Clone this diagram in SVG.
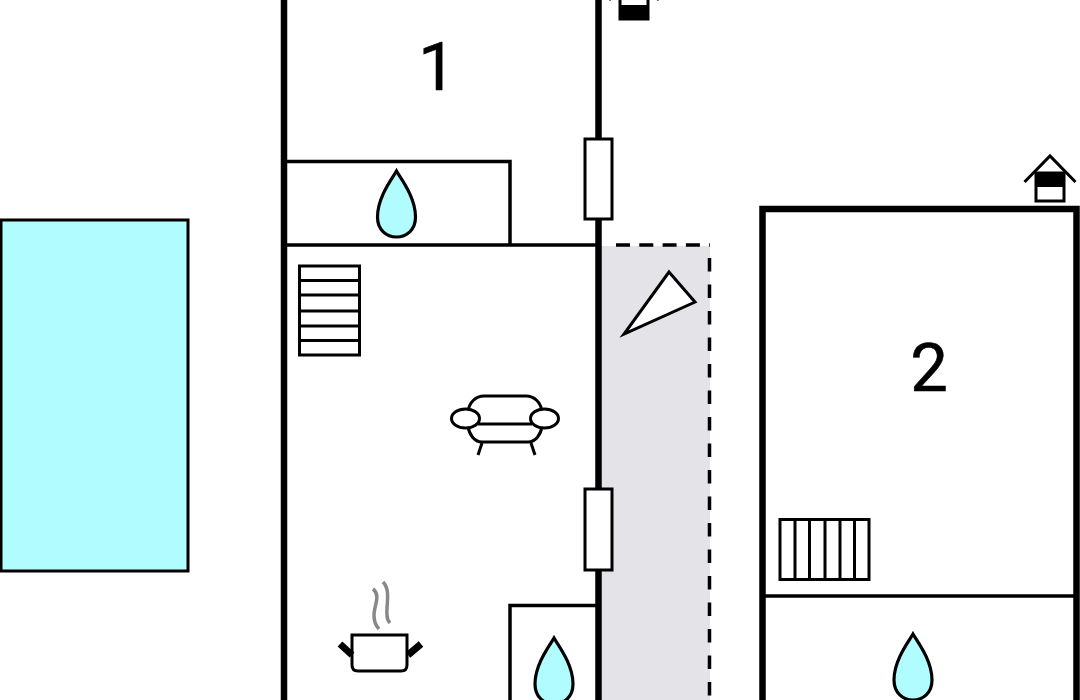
<svg xmlns="http://www.w3.org/2000/svg" width="1080" height="700" viewBox="0 0 1080 700">
<defs>
<path id="drop" d="M0 0C-4 7-19 26-19 46C-19 59-10 66 0 66C10 66 19 59 19 46C19 26 4 7 0 0Z" fill="#b0fcff" stroke="#000" stroke-width="3.200"/>
</defs>
<style>
.w{fill:none;stroke:#000;stroke-width:6.500}
.t{fill:none;stroke:#000;stroke-width:3.500}
.s{fill:none;stroke:#000;stroke-width:3}
.l{font-family:Roboto,"Liberation Sans",sans-serif;font-size:67px;fill:#000;stroke:#000;stroke-width:.6;text-anchor:middle}
</style>
<rect width="1080" height="700" fill="#fff"/>
<rect id="pool" x="1" y="220" width="187" height="351" fill="#b0fcff" stroke="#000" stroke-width="3"/>
<rect id="terrace" x="600" y="246" width="110" height="454" fill="#e3e3e8"/>
<path d="M616 245H710" fill="none" stroke="#000" stroke-width="3.500" stroke-dasharray="14 9.300"/>
<path d="M709.500 258V700" fill="none" stroke="#000" stroke-width="3.500" stroke-dasharray="13.500 13"/>
<g id="walls">
<path class="w" d="M284 0V700M598.500 0V700"/>
<path class="t" d="M284 161.500H510V245M284 245H600M510 700V605.500H598"/>
<path d="M762.500 700V209H1076.500V700" fill="none" stroke="#000" stroke-width="6.500"/>
<path class="t" d="M763 596H1077"/>
</g>
<g id="door-1"><rect x="585" y="139" width="27" height="80" fill="#fff" stroke="#000" stroke-width="3"/></g>
<g id="door-2"><rect x="585" y="489" width="27" height="81" fill="#fff" stroke="#000" stroke-width="3"/></g>
<g id="house-top">
<path d="M609 0L634 -26L659 0" fill="none" stroke="#000" stroke-width="3"/>
<rect x="620" y="-10" width="28" height="29" fill="#fff" stroke="#000" stroke-width="3"/>
<rect x="620" y="5" width="28" height="14" fill="#000"/>
</g>
<g id="house-right">
<rect x="1036" y="173" width="28" height="28" fill="#fff" stroke="#000" stroke-width="3"/>
<rect x="1036" y="173" width="28" height="14" fill="#000"/>
<path d="M1024.500 182L1050 156L1075.500 182" fill="none" stroke="#000" stroke-width="3"/>
</g>
<g id="room-1"><text class="l" x="437" y="90">1</text></g>
<g id="room-2"><text class="l" x="929" y="391">2</text></g>
<g id="bath-1"><use href="#drop" x="396.500" y="171"/></g>
<g id="bath-2"><use href="#drop" x="554" y="638"/></g>
<g id="bath-3"><use href="#drop" x="913" y="634"/></g>
<g id="stairs-1">
<rect x="299.500" y="266" width="60" height="89" fill="#fff" stroke="#000" stroke-width="3"/>
<path class="s" d="M299 280.500H360M299 295H360M299 311H360M299 326H360M299 340.500H360"/>
</g>
<g id="stairs-2">
<rect x="780" y="519.500" width="89" height="60" fill="#fff" stroke="#000" stroke-width="3"/>
<path class="s" d="M795 519V580M809.500 519V580M825 519V580M840 519V580M854.500 519V580"/>
</g>
<g id="compass"><path d="M669 272L695 302L624 334Z" fill="#fff" stroke="#000" stroke-width="3"/></g>
<g id="sofa" fill="#fff" stroke="#000" stroke-width="3">
<path d="M468 412C469 402 476 396 484 396H526C534 396 541 402 542 412V426C541 434 536 442 528 442H482C474 442 469 434 468 426Z"/>
<path d="M478 424H532" fill="none"/>
<ellipse cx="465.500" cy="418.500" rx="14" ry="9.500"/>
<ellipse cx="544.500" cy="418.500" rx="14" ry="9.500"/>
<path d="M482 443L478 455M531 443L535 455" fill="none"/>
</g>
<g id="pot">
<path d="M352 635H407V665Q407 671 401 671H358Q352 671 352 665Z" fill="#fff" stroke="#000" stroke-width="3"/>
<path d="M352 655L340 644M408 655L421 644" stroke="#000" stroke-width="7" fill="none"/>
<path d="M373 589C381 595 374 606 374 615C374 622 376 626 379 629M383 582C391 590 386 605 387 615C387 619 388 621 390 623" fill="none" stroke="#888" stroke-width="3.500"/>
</g>
</svg>
